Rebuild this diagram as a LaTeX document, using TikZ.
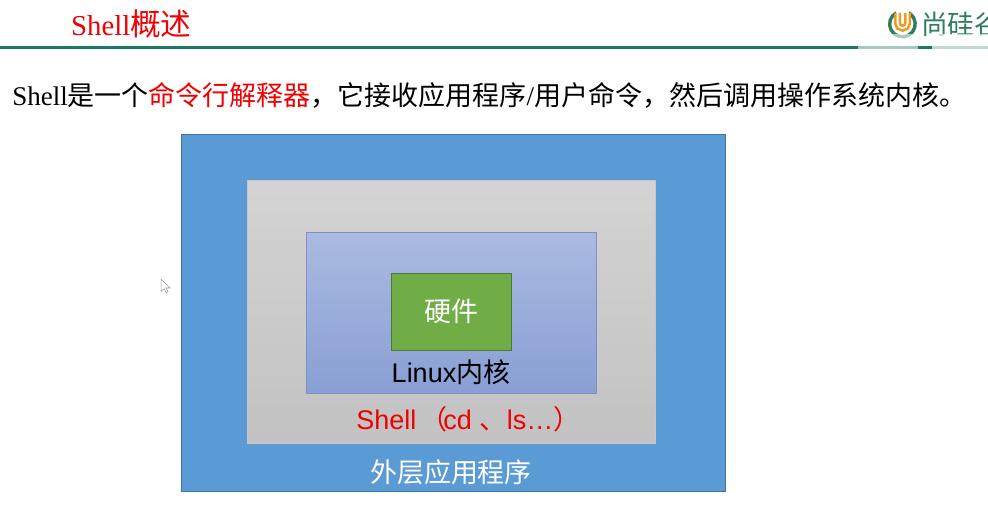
\documentclass[tikz,border=0pt]{standalone}
\usepackage{fontspec}
\setmainfont{Liberation Serif}
\setsansfont{Liberation Sans}
\newfontfamily\cjk{Noto Sans CJK SC}
\usepackage{xcolor}
\definecolor{linegreen}{HTML}{1B7A63}
\definecolor{logogreen}{HTML}{2E7D5B}
\definecolor{logoorange}{HTML}{EE9A1C}
\definecolor{outerblue}{HTML}{5B9BD5}
\definecolor{kernelline}{HTML}{7C90C4}
\definecolor{hwgreen}{HTML}{70AD47}
\definecolor{titlered}{HTML}{F00000}

\begin{document}
\begin{tikzpicture}[
    layer/.style={rectangle, inner sep=0pt, line width=0.6pt},
    outerbox/.style={layer, draw=outerblue!75!black, fill=outerblue},
    shellbox/.style={layer, draw=gray!45, top color=black!17, bottom color=black!24},
    kernelbox/.style={layer, draw=kernelline, top color={rgb,255:red,170;green,186;blue,224},
                bottom color={rgb,255:red,137;green,159;blue,212}},
    hwbox/.style={layer, draw=hwgreen!70!black, fill=hwgreen, text=white,
                font=\cjk\fontsize{19.2}{23}\selectfont},
    label/.style={inner sep=0pt, font=\sffamily\fontsize{19.2}{23}\selectfont},
    heading/.style={inner sep=0pt, anchor=west}
]

%% ---- PAGE: white sheet and top rule ----
\path [use as bounding box, fill=white] (0,0) rectangle (24.7,-13.25);
\coordinate (ruleL) at (0,-1.19);
\coordinate (ruleR) at (24.7,-1.19);
\draw [linegreen, line width=2.6pt] (ruleL) -- (ruleR);

%% ---- HEADINGS ----
\node [heading, text=titlered, font=\fontsize{20.5}{24}\selectfont] (title) at (1.77,-0.6)
    {Shell{\cjk\fontsize{21.8}{24}\selectfont 概述}};
\node [heading, font=\fontsize{19.2}{23}\selectfont] (intro) at (0.3,-2.38)
    {Shell{\cjk 是一个\textcolor{titlered}{命令行解释器}，它接收应用程序}/{\cjk 用户命令，然后调用操作系统内核。}};

%% ---- LOGO (cut off by the page edge) ----
\draw [logogreen, line width=2.4pt] (22.56,-0.6) +(118:0.32) arc (118:422:0.32);
\draw [logoorange, line width=5pt] (22.44,-0.32) -- (22.44,-0.58) arc (180:360:0.125) -- (22.69,-0.32);
\draw [white, line width=1.3pt] (22.44,-0.3) -- (22.44,-0.58) arc (180:360:0.125) -- (22.69,-0.3);
\begin{scope}
\clip (22.95,0) rectangle (24.7,-1.1);
\node [heading, text=logogreen, font=\cjk\fontsize{19}{20}\selectfont] (brand) at (23.02,-0.62) {尚硅谷};
\end{scope}

%% ---- FAINT PATCHES OVER THE RULE ----
\fill [white, opacity=0.6] (21.45,-0.85) rectangle (22.95,-1.3);
\fill [white, opacity=0.72] (23.3,-0.85) rectangle (24.7,-1.4);

%% ---- NESTED LAYERS (outside in) ----
\node [outerbox, minimum width=13.6cm, minimum height=8.925cm] (apps) at (11.325,-7.8125) {};
\node [shellbox, minimum width=10.2cm, minimum height=6.575cm] (shell) at (11.275,-7.7875) {};
\node [kernelbox, minimum width=7.25cm, minimum height=4.025cm] (kernel) at (11.275,-7.8125) {};
\node [hwbox, minimum width=3.0cm, minimum height=1.925cm] (hardware) at (11.275,-7.7875) {硬件};

%% ---- LAYER LABELS ----
\node [label] (kernellabel) at (11.275,-9.3) {Linux{\cjk 内核}};
\node [label, heading, text=titlered] (shelllabel) at (8.9,-10.475)
    {Shell\hspace{3pt}{\cjk （}\hspace{-3pt}cd\hspace{5.7pt}{\cjk 、}ls…{\cjk ）}};
\node [label, text=white, font=\cjk\fontsize{19.2}{23}\selectfont] (appslabel) at (11.275,-11.8) {外层应用程序};

%% ---- MOUSE POINTER ----
\draw [gray!80, fill=white, line width=0.4pt] (4.03,-6.98) -- (4.03,-7.28) -- (4.1,-7.22) -- (4.16,-7.32)
    -- (4.2,-7.29) -- (4.15,-7.2) -- (4.25,-7.2) -- cycle;

\end{tikzpicture}
\end{document}
